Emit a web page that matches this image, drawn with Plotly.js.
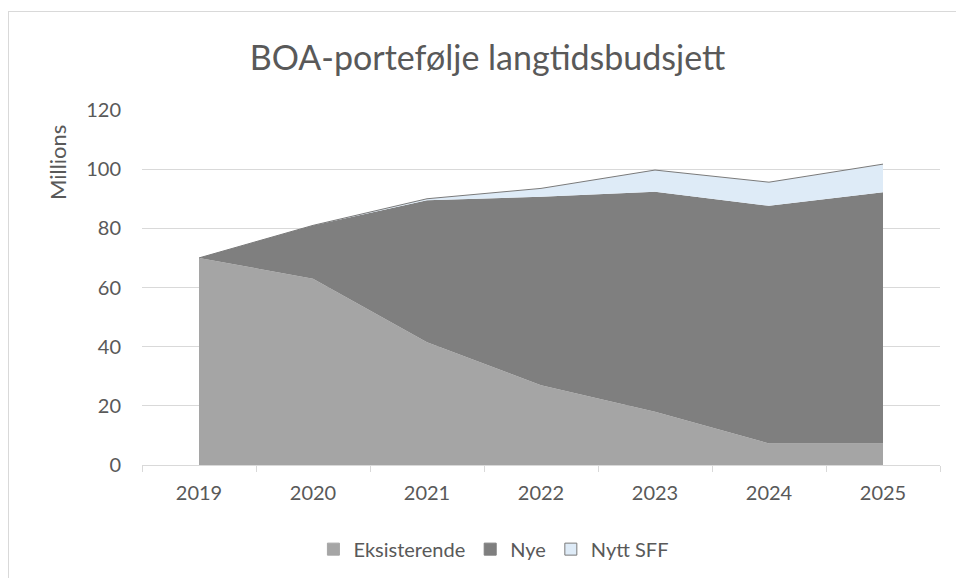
<!DOCTYPE html>
<html>
<head>
<meta charset="utf-8">
<script src="https://cdn.plot.ly/plotly-3.0.1.min.js"></script>
<style>
html,body{margin:0;padding:0;overflow:hidden;background:#fff;}
#chart{width:956px;height:578px;}
#frame{position:absolute;left:8px;top:11px;width:980px;height:600px;border:1px solid #d9d9d9;pointer-events:none;}
</style>
</head>
<body>
<div id="chart"></div>
<div id="frame"></div>
<script>
const years = ['2019','2020','2021','2022','2023','2024','2025'];
const eksisterende = [70, 63, 41.5, 27, 18, 7.3, 7.3];
const nye = [0, 18, 48, 63.7, 74.4, 80.3, 84.9];
const nyttSFF = [0, 0, 0.5, 2.8, 7.3, 8, 9.5];
const yTicks = [0, 20, 40, 60, 80, 100, 120];
const seriesNames = ['Eksisterende', 'Nye', 'Nytt SFF'];
const seriesColors = ['#a5a5a5', '#7f7f7f', '#deebf7'];
const seriesValues = [eksisterende, nye, nyttSFF];

const font = 'Lato, "Open Sans", sans-serif';
const grey = '#595959';
const outline = '#7a7a7a';

const traces = [];
seriesValues.forEach((vals, i) => {
  traces.push({x: years, y: vals, name: seriesNames[i], type: 'scatter', mode: 'lines',
    stackgroup: 'a', fillcolor: seriesColors[i], showlegend: false,
    line: {width: i === 2 ? 1 : 0, color: i === 2 ? outline : seriesColors[i]}, hoverinfo: 'skip'});
});
// legend entries (square swatches), no marks drawn
seriesValues.forEach((vals, i) => {
  traces.push({x: [null], y: [null], name: seriesNames[i], type: 'bar', showlegend: true,
    marker: {color: seriesColors[i], line: {width: 1, color: i === 2 ? outline : seriesColors[i]}}});
});

const layout = {
  width: 956, height: 578,
  margin: {l: 142, r: 16, t: 110, b: 113, autoexpand: false},
  paper_bgcolor: '#ffffff', plot_bgcolor: '#ffffff',
  font: {family: font, color: grey, size: 20},
  title: {text: 'BOA-portefølje langtidsbudsjett', font: {family: font, size: 34, color: grey},
          x: 0.51, xanchor: 'center', y: 0.9, yanchor: 'middle'},
  xaxis: {type: 'category', range: [-0.5, 6.5], showgrid: false, showline: true, linecolor: '#d9d9d9',
          linewidth: 1, ticks: 'outside', tickson: 'boundaries', ticklen: 6, tickcolor: '#d9d9d9',
          ticklabelstandoff: 10, automargin: false,
          tickfont: {family: font, size: 20, color: grey}, fixedrange: true},
  yaxis: {range: [0, 120], tickvals: yTicks, showgrid: true, gridcolor: '#d9d9d9', gridwidth: 1,
          zeroline: false, showline: false, ticks: '', ticklabelstandoff: 20, automargin: false,
          tickfont: {family: font, size: 20, color: grey}, fixedrange: true},
  showlegend: true,
  legend: {orientation: 'h', x: 0.441, xanchor: 'center', y: -0.237, yanchor: 'middle',
           itemwidth: 30, font: {family: font, size: 20, color: grey}, traceorder: 'normal'},
  annotations: [{text: 'Millions', xref: 'paper', yref: 'paper', x: -0.105, y: 0.851,
                 xanchor: 'center', yanchor: 'middle', textangle: -90, showarrow: false,
                 font: {family: font, size: 22, color: grey}}]
};

Plotly.newPlot('chart', traces, layout, {displayModeBar: false, staticPlot: true});
</script>
</body>
</html>
